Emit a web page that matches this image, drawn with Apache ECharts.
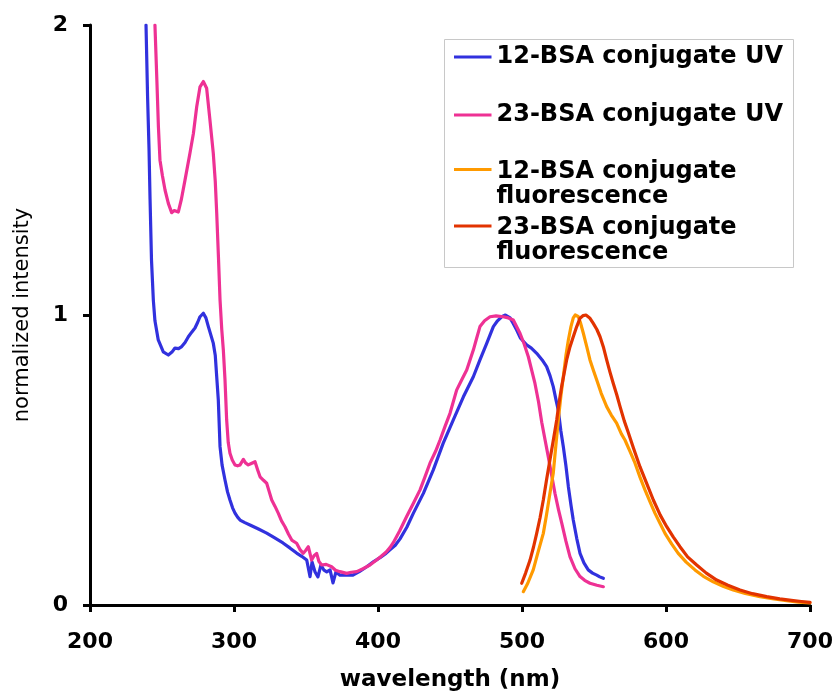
<!DOCTYPE html>
<html>
<head>
<meta charset="utf-8">
<script src="https://cdn.jsdelivr.net/npm/echarts@6/dist/echarts.min.js"></script>
<style>
  html, body { margin: 0; padding: 0; background: #fff; }
  #chart { width: 837px; height: 691px; }
</style>
</head>
<body>
<div id="chart"></div>
<script>
// Axis ticks
const xTicks = [200, 300, 400, 500, 600, 700];
const yTicks = [0, 1, 2];

// Series names
const names = [
  '12-BSA conjugate UV',
  '23-BSA conjugate UV',
  '12-BSA conjugate\nfluorescence',
  '23-BSA conjugate\nfluorescence'
];

// 12-BSA conjugate UV absorbance, [wavelength nm, normalized intensity]
const uv12 = [[238.9,2.0],[240.0,1.75],[241.0,1.57],[241.7,1.40],[242.7,1.19],[244.0,1.05],[245.1,0.98],[247.4,0.914],[250.9,0.873],[254.4,0.862],[256.9,0.872],[259.0,0.886],[261.5,0.884],[263.7,0.891],[266,0.905],[268.3,0.925],[270.5,0.94],[272.9,0.955],[274.8,0.975],[276.4,0.994],[278.7,1.006],[280.5,0.99],[282.2,0.960],[285.6,0.903],[287,0.86],[288.0,0.787],[289.1,0.707],[290.3,0.546],[291.7,0.483],[293.75,0.431],[295.5,0.39],[297.2,0.362],[299,0.335],[300.7,0.317],[302.5,0.303],[304.2,0.293],[307.5,0.284],[311.1,0.276],[317,0.262],[322.7,0.248],[328,0.232],[334.0,0.214],[339,0.196],[343.5,0.179],[347,0.168],[350.5,0.155],[352.8,0.098],[354.2,0.148],[356.3,0.114],[358.3,0.097],[360.4,0.138],[362.5,0.12],[364.4,0.114],[366.7,0.121],[368.75,0.076],[370.8,0.114],[373.6,0.103],[378,0.104],[382.6,0.103],[387,0.115],[392.2,0.132],[397,0.15],[401.4,0.163],[405,0.176],[408.3,0.190],[412,0.206],[415.3,0.228],[420,0.268],[424.5,0.316],[431.5,0.385],[438.4,0.466],[445.3,0.558],[452.3,0.638],[459.3,0.718],[466.2,0.787],[470.8,0.845],[475.5,0.902],[480.1,0.960],[483,0.98],[485.9,0.994],[488.5,1.0],[491.7,0.99],[494,0.97],[496.3,0.948],[499,0.92],[503.2,0.897],[506.5,0.886],[510.2,0.868],[514,0.845],[517.1,0.822],[519.5,0.79],[521.7,0.753],[523.5,0.71],[525.2,0.672],[527,0.6],[528.7,0.546],[530.5,0.48],[532.2,0.408],[534,0.345],[535.6,0.293],[538,0.23],[540.3,0.178],[543,0.145],[546.0,0.121],[549,0.11],[551.9,0.103],[554,0.097],[556.5,0.092]];

// 23-BSA conjugate UV absorbance
const uv23 = [[245.1,2.0],[246.5,1.8],[247.5,1.65],[248.6,1.534],[250.3,1.48],[252.1,1.431],[254.4,1.385],[256.7,1.353],[258.5,1.36],[261.3,1.355],[263.5,1.40],[266.0,1.466],[269.4,1.558],[271.8,1.626],[274.1,1.718],[276.4,1.787],[278.7,1.805],[281.0,1.782],[283.3,1.672],[285.6,1.558],[287,1.46],[288.0,1.351],[289.2,1.2],[290.3,1.052],[291.5,0.95],[292.6,0.879],[293.75,0.776],[294.9,0.638],[296,0.56],[297.2,0.523],[298.8,0.50],[300.7,0.483],[302.5,0.48],[304.2,0.483],[306.5,0.502],[308,0.49],[309.9,0.483],[312,0.488],[314.6,0.494],[316.5,0.465],[318.1,0.442],[320.5,0.43],[322.7,0.420],[324.5,0.39],[326.2,0.362],[328.5,0.34],[330.8,0.316],[333,0.29],[335.4,0.270],[337.8,0.245],[340.1,0.224],[343.5,0.213],[346,0.19],[348.1,0.178],[350,0.19],[351.6,0.201],[353.9,0.155],[355.6,0.17],[357.4,0.178],[359,0.15],[360.9,0.138],[364,0.14],[367.8,0.132],[370.5,0.12],[373.6,0.115],[378.2,0.109],[381.5,0.113],[385.2,0.115],[390,0.126],[394.4,0.138],[399,0.155],[401.4,0.165],[405.5,0.182],[408.3,0.198],[410.6,0.215],[415,0.255],[419.9,0.305],[424.5,0.35],[429.2,0.397],[432.5,0.44],[436.1,0.489],[440,0.53],[443.1,0.569],[446.5,0.615],[450,0.661],[454.6,0.741],[458,0.775],[461.6,0.810],[466.2,0.879],[468.5,0.92],[470.8,0.960],[474,0.98],[477.8,0.994],[482,0.997],[487.0,0.994],[490.5,0.99],[493.95,0.983],[498.6,0.937],[501.5,0.9],[504.4,0.856],[509.0,0.764],[511.5,0.70],[513.7,0.63],[516,0.57],[518.3,0.51],[520.5,0.45],[522.9,0.385],[525.3,0.33],[527.6,0.282],[530.5,0.22],[533.3,0.167],[536.8,0.125],[540.3,0.098],[543.5,0.085],[547.2,0.075],[552,0.068],[556.5,0.063]];

// 12-BSA conjugate fluorescence emission
const fl12 = [[500.9,0.046],[504,0.075],[507.8,0.121],[511,0.18],[514.8,0.247],[517,0.31],[519.4,0.385],[521.7,0.454],[523.5,0.55],[525.2,0.638],[527,0.72],[528.7,0.787],[530.5,0.86],[532.2,0.914],[534,0.96],[535.6,0.99],[537,1.0],[539,0.995],[540.5,0.975],[542.6,0.937],[545,0.89],[547.2,0.845],[549.5,0.81],[551.9,0.776],[555,0.73],[558.8,0.684],[562,0.655],[565.7,0.627],[569,0.59],[571.5,0.569],[575,0.53],[578.5,0.489],[582,0.44],[585.4,0.397],[589,0.355],[592.4,0.316],[596,0.28],[599.3,0.247],[604,0.21],[608.5,0.178],[614,0.148],[620.1,0.121],[626,0.099],[632.8,0.080],[640,0.064],[646.7,0.052],[655,0.04],[665.3,0.029],[675,0.021],[683.8,0.015],[692,0.01],[700,0.007]];

// 23-BSA conjugate fluorescence emission
const fl23 = [[499.8,0.075],[502.5,0.11],[505.6,0.155],[508,0.2],[510.2,0.247],[512.5,0.30],[514.8,0.362],[517,0.43],[519.4,0.5],[521.8,0.57],[524.1,0.638],[525.8,0.70],[527.5,0.753],[529.3,0.80],[531.0,0.845],[533.3,0.89],[535.6,0.925],[538,0.96],[540.3,0.989],[542.5,0.998],[544.4,1.0],[547,0.99],[549.5,0.971],[552,0.95],[554.2,0.925],[556.5,0.89],[558.8,0.845],[561,0.805],[563.4,0.764],[565.8,0.725],[568.1,0.684],[571,0.635],[573.8,0.595],[577.5,0.54],[581.9,0.477],[586.5,0.42],[591.2,0.362],[596,0.31],[600.5,0.270],[605,0.235],[609.7,0.201],[615,0.166],[621.3,0.138],[628,0.11],[635.2,0.086],[643,0.068],[651.4,0.052],[660,0.039],[669.9,0.029],[679,0.021],[688.4,0.015],[694,0.012],[700,0.009]];

const colors = ['#3131DE', '#EE3194', '#FF9A00', '#E23300'];
const seriesData = [uv12, uv23, fl12, fl23];

const BOLD_FONT = '"DejaVu Sans", Verdana, sans-serif';
const AXIS_COLOR = '#000';

const chart = echarts.init(document.getElementById('chart'), null, { renderer: 'canvas' });

// Legend keys: a plain bar for one-line entries; for two-line entries the
// bar sits level with the first text line (corner dots pin the icon box).
const ICON_W = 37.5;
const LINE_H = 25;
const twoLineIcon = 'path://M0,9H37.5V12H0Z M0,0H0.01V0.01H0Z M37.49,49.99H37.5V50H37.49Z';

// one legend block per entry so every entry sits at its own row
const legendTops = [44.5, 102.5, 159, 215.5];
const legends = names.map((n, i) => {
  const twoLine = n.indexOf('\n') >= 0;
  return {
    data: [n],
    left: 454,
    top: legendTops[i],
    orient: 'vertical',
    padding: 0,
    itemWidth: ICON_W,
    itemHeight: twoLine ? 2 * LINE_H : 3,
    itemGap: 0,
    icon: twoLine ? twoLineIcon : 'rect',
    symbolKeepAspect: false,
    selectedMode: false,
    textStyle: {
      fontFamily: BOLD_FONT,
      fontWeight: 'bold',
      fontSize: 24,
      lineHeight: LINE_H,
      color: '#000'
    }
  };
});

const option = {
  animation: false,
  backgroundColor: '#fff',
  grid: {
    left: 90, right: 27, top: 25, bottom: 86,
    containLabel: false,
    outerBoundsMode: 'none'
  },
  graphic: [{
    type: 'rect',
    shape: { x: 444.5, y: 39.5, width: 349, height: 228 },
    style: { fill: '#fff', stroke: '#c8c8c8', lineWidth: 1 },
    z: 0
  }],
  legend: legends,
  xAxis: {
    type: 'value',
    min: xTicks[0],
    max: xTicks[xTicks.length - 1],
    interval: 100,
    name: 'wavelength (nm)',
    nameLocation: 'middle',
    nameGap: 64,
    nameTextStyle: { fontFamily: BOLD_FONT, fontWeight: 'bold', fontSize: 23, color: '#000' },
    axisLine: { show: true, onZero: false, lineStyle: { color: AXIS_COLOR, width: 3 } },
    axisTick: { show: true, inside: false, length: 7, lineStyle: { color: AXIS_COLOR, width: 3 } },
    axisLabel: { fontFamily: BOLD_FONT, fontWeight: 'bold', fontSize: 22, color: '#000', margin: 26 },
    splitLine: { show: false }
  },
  yAxis: {
    type: 'value',
    min: yTicks[0],
    max: yTicks[yTicks.length - 1],
    interval: 1,
    name: 'normalized intensity',
    nameLocation: 'middle',
    nameGap: 57,
    nameTextStyle: { fontFamily: BOLD_FONT, fontSize: 21, color: '#000' },
    axisLine: { show: true, onZero: false, lineStyle: { color: AXIS_COLOR, width: 3 } },
    axisTick: { show: true, inside: false, length: 7, lineStyle: { color: AXIS_COLOR, width: 3 } },
    axisLabel: { fontFamily: BOLD_FONT, fontWeight: 'bold', fontSize: 22, color: '#000', margin: 22 },
    splitLine: { show: false }
  },
  series: seriesData.map((d, i) => ({
    name: names[i],
    type: 'line',
    data: d,
    showSymbol: false,
    symbol: 'none',
    smooth: false,
    clip: true,
    color: colors[i],
    lineStyle: { color: colors[i], width: 3.2, join: 'round', cap: 'round' },
    z: 2 + i
  }))
};

chart.setOption(option);
</script>
</body>
</html>
